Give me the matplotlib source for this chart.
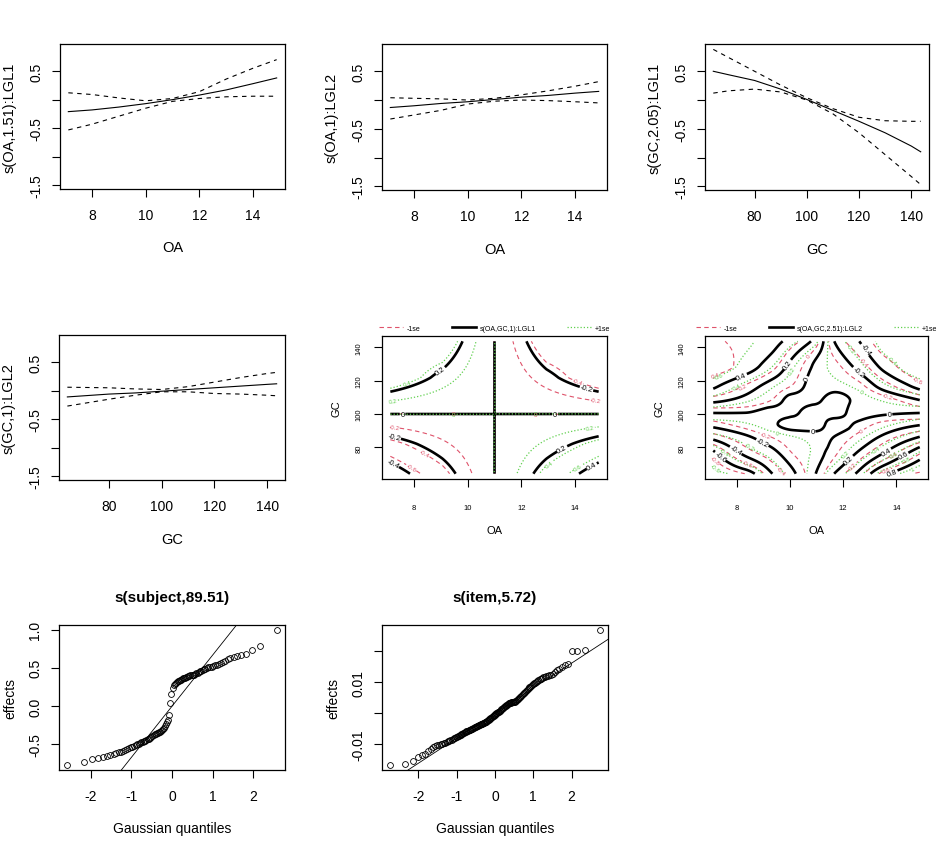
import numpy as np
import matplotlib
matplotlib.use("Agg")
import matplotlib.pyplot as plt
from matplotlib.lines import Line2D
from statistics import NormalDist

plt.rcParams['font.family'] = ['Liberation Sans', 'DejaVu Sans']
plt.rcParams['axes.unicode_minus'] = False
plt.rcParams['lines.dashed_pattern'] = [4, 3]
plt.rcParams['lines.dotted_pattern'] = [1, 1.6]

RED = '#DF536B'
GREEN = '#61D04F'

# ---------------- data: 1-D smooths (fit, upper / lower 1 se) ----------------
oa_grid = [7.12, 8.0, 9.0, 10.0, 11.0, 12.0, 13.0, 14.0, 14.88]
s_oa_lgl1_fit = [-0.21, -0.18, -0.13, -0.07, 0.00, 0.08, 0.17, 0.28, 0.38]
s_oa_lgl1_hi = [0.12, 0.09, 0.03, -0.02, 0.02, 0.14, 0.36, 0.55, 0.70]
s_oa_lgl1_lo = [-0.53, -0.43, -0.29, -0.15, -0.03, 0.02, 0.05, 0.06, 0.06]

s_oa_lgl2_fit = [-0.13, -0.10, -0.06, -0.03, 0.01, 0.05, 0.08, 0.12, 0.15]
s_oa_lgl2_hi = [0.04, 0.03, 0.02, 0.00, 0.03, 0.09, 0.16, 0.24, 0.32]
s_oa_lgl2_lo = [-0.33, -0.26, -0.18, -0.07, -0.02, 0.00, -0.01, -0.03, -0.05]

gc_grid = [64.2, 70.0, 80.0, 90.0, 100.0, 110.0, 120.0, 130.0, 140.0, 143.6]
s_gc_lgl1_fit = [0.50, 0.44, 0.34, 0.19, 0.01, -0.18, -0.37, -0.57, -0.80, -0.90]
s_gc_lgl1_hi = [0.88, 0.74, 0.50, 0.26, 0.04, -0.15, -0.30, -0.36, -0.37, -0.37]
s_gc_lgl1_lo = [0.12, 0.16, 0.19, 0.14, 0.00, -0.24, -0.57, -0.95, -1.33, -1.47]

gc_grid2 = [64.2, 80.0, 90.0, 100.0, 110.0, 120.0, 130.0, 140.0, 143.6]
s_gc_lgl2_fit = [-0.11, -0.06, -0.04, -0.01, 0.02, 0.05, 0.08, 0.11, 0.12]
s_gc_lgl2_hi = [0.06, 0.05, 0.03, 0.02, 0.07, 0.15, 0.23, 0.30, 0.32]
s_gc_lgl2_lo = [-0.27, -0.15, -0.08, -0.02, -0.02, -0.05, -0.06, -0.08, -0.09]

# ---------------- data: 2-D smooths (fit and se on grids) ----------------
te1_oa = [7.12, 9.06, 11.0, 12.94, 14.88]
te1_gc = [64.2, 82.1, 100.0, 121.8, 143.6]
te1_fit = [
    [-0.48, -0.268, 0.0, 0.268, 0.48],
    [-0.268, -0.134, 0.0, 0.134, 0.268],
    [0.0, 0.0, 0.0, 0.0, 0.0],
    [0.326, 0.163, 0.0, -0.163, -0.326],
    [0.38, 0.326, 0.0, -0.326, -0.38],
]
te1_se = [
    [0.31, 0.196, 0.0, 0.196, 0.31],
    [0.196, 0.098, 0.0, 0.098, 0.196],
    [0.0, 0.0, 0.0, 0.0, 0.0],
    [0.239, 0.119, 0.0, 0.119, 0.239],
    [0.20, 0.239, 0.0, 0.239, 0.20],
]

te2_oa = [7.12, 8.3, 9.3, 10.1, 10.9, 11.7, 12.5, 13.6, 14.88]
te2_gc = [64.2, 76.0, 86.0, 94.0, 101.0, 108.0, 117.0, 129.0, 143.6]
te2_fit = [
    [-0.75, -0.68, -0.41, -0.23, -0.02, 0.21, 0.41, 0.78, 0.95],
    [-0.64, -0.38, -0.25, -0.13, -0.05, 0.06, 0.21, 0.43, 0.72],
    [-0.36, -0.23, -0.13, -0.07, -0.04, 0.005, 0.09, 0.24, 0.41],
    [-0.15, -0.08, -0.02, 0.04, 0.05, -0.04, 0.01, 0.10, 0.18],
    [0.01, 0.004, -0.03, -0.02, 0.05, 0.04, -0.03, -0.02, -0.01],
    [0.23, 0.15, 0.06, -0.03, -0.02, 0.04, -0.02, -0.08, -0.19],
    [0.43, 0.28, 0.15, 0.06, -0.03, -0.04, -0.09, -0.27, -0.45],
    [0.55, 0.47, 0.33, 0.15, -0.01, -0.10, -0.23, -0.45, -0.57],
    [0.55, 0.50, 0.45, 0.34, 0.17, -0.21, -0.38, -0.55, -0.57],
]
te2_se_oa = [7.12, 9.06, 11.0, 12.94, 14.88]
te2_se_gc = [64.2, 82.1, 100.0, 121.8, 143.6]
te2_se = [
    [0.14, 0.11, 0.09, 0.11, 0.14],
    [0.11, 0.08, 0.06, 0.08, 0.11],
    [0.09, 0.06, 0.06, 0.06, 0.10],
    [0.11, 0.08, 0.06, 0.08, 0.11],
    [0.14, 0.11, 0.09, 0.11, 0.13],
]
contour_levels = [-1.0, -0.8, -0.6, -0.4, -0.2, 0.0, 0.2, 0.4, 0.6, 0.8, 1.0]

# ---------------- data: random effects ----------------
subject_effects = [
    -0.77, -0.735, -0.70, -0.685, -0.67, -0.66, -0.645, -0.635, -0.62, -0.61,
    -0.60, -0.59, -0.58, -0.565, -0.555, -0.545, -0.535, -0.525, -0.515, -0.505,
    -0.495, -0.485, -0.478, -0.47, -0.462, -0.455, -0.447, -0.44, -0.43, -0.42,
    -0.41, -0.40, -0.385, -0.375, -0.365, -0.355, -0.35, -0.345, -0.34, -0.33,
    -0.32, -0.30, -0.285, -0.27, -0.24, -0.21, -0.18, -0.12, 0.04, 0.16,
    0.23, 0.27, 0.29, 0.30, 0.315, 0.325, 0.33, 0.34, 0.345, 0.35,
    0.36, 0.365, 0.37, 0.38, 0.385, 0.39, 0.395, 0.40, 0.40, 0.405,
    0.41, 0.415, 0.425, 0.435, 0.445, 0.455, 0.46, 0.47, 0.48, 0.49,
    0.50, 0.505, 0.51, 0.515, 0.52, 0.53, 0.54, 0.55, 0.565, 0.58,
    0.595, 0.61, 0.625, 0.64, 0.655, 0.665, 0.68, 0.735, 0.79, 0.99,
]
item_effects = [
    -0.0166, -0.0163, -0.01555, -0.01425, -0.01362, -0.01309, -0.01227, -0.01156, -0.01094, -0.01047,
    -0.0103, -0.01016, -0.01002, -0.00988, -0.00972, -0.0095, -0.00928, -0.00907, -0.00888, -0.0087,
    -0.00852, -0.00834, -0.00817, -0.008, -0.00781, -0.00763, -0.00746, -0.00729, -0.00712, -0.00696,
    -0.0068, -0.00664, -0.00649, -0.00634, -0.00619, -0.00604, -0.00591, -0.00578, -0.00566, -0.00553,
    -0.00542, -0.00529, -0.00518, -0.00506, -0.00495, -0.00483, -0.00472, -0.0046, -0.0045, -0.00439,
    -0.00428, -0.00417, -0.00406, -0.00396, -0.00385, -0.00375, -0.00364, -0.00354, -0.00344, -0.00334,
    -0.00324, -0.00314, -0.00303, -0.00294, -0.00284, -0.0027, -0.00254, -0.00237, -0.00221, -0.00205,
    -0.00189, -0.00173, -0.00158, -0.00142, -0.00126, -0.00111, -0.00096, -0.00081, -0.00067, -0.00052,
    -0.00036, -0.00021, -0.00007, 0.00008, 0.00023, 0.00037, 0.00052, 0.00069, 0.00084, 0.00101,
    0.00118, 0.00134, 0.00151, 0.00169, 0.00185, 0.00202, 0.00218, 0.00235, 0.00253, 0.00269,
    0.00286, 0.00303, 0.0032, 0.00326, 0.00332, 0.00338, 0.00344, 0.0035, 0.00357, 0.00363,
    0.00369, 0.00375, 0.00383, 0.00406, 0.00427, 0.00449, 0.0047, 0.00492, 0.00514, 0.00537,
    0.0056, 0.00582, 0.00609, 0.00635, 0.00662, 0.0069, 0.00718, 0.00747, 0.00775, 0.00805,
    0.0083, 0.00854, 0.0088, 0.00905, 0.00932, 0.00959, 0.00987, 0.01016, 0.01045, 0.01076,
    0.01095, 0.01114, 0.01133, 0.01153, 0.01174, 0.0119, 0.01203, 0.01218, 0.01234, 0.01261,
    0.01315, 0.0138, 0.0144, 0.01493, 0.01553, 0.016, 0.0199, 0.0199, 0.0205, 0.0267,
]


# ---------------- helpers ----------------
def pchip_1d(xk, yk, xf):
    xk = np.asarray(xk, float)
    yk = np.asarray(yk, float)
    n = len(xk)
    h = np.diff(xk)
    d = np.diff(yk) / h
    m = np.zeros(n)
    for i in range(1, n - 1):
        if d[i - 1] * d[i] > 0:
            w1 = 2 * h[i] + h[i - 1]
            w2 = h[i] + 2 * h[i - 1]
            m[i] = (w1 + w2) / (w1 / d[i - 1] + w2 / d[i])

    def end_slope(h0, h1, d0, d1):
        mm = ((2 * h0 + h1) * d0 - h0 * d1) / (h0 + h1)
        if np.sign(mm) != np.sign(d0):
            mm = 0.0
        elif np.sign(d0) != np.sign(d1) and abs(mm) > abs(3 * d0):
            mm = 3 * d0
        return mm

    m[0] = end_slope(h[0], h[1], d[0], d[1])
    m[-1] = end_slope(h[-1], h[-2], d[-1], d[-2])
    idx = np.clip(np.searchsorted(xk, xf) - 1, 0, n - 2)
    t = (xf - xk[idx]) / h[idx]
    h00 = 2 * t ** 3 - 3 * t ** 2 + 1
    h10 = t ** 3 - 2 * t ** 2 + t
    h01 = -2 * t ** 3 + 3 * t ** 2
    h11 = t ** 3 - t ** 2
    return (h00 * yk[idx] + h10 * h[idx] * m[idx] +
            h01 * yk[idx + 1] + h11 * h[idx] * m[idx + 1])


def upsample(gx, gy, Z, xf, yf, kind):
    Z = np.asarray(Z, float)
    if kind == 'linear':
        f = lambda xk, yk, xq: np.interp(xq, xk, yk)
    else:
        f = pchip_1d
    rows = np.array([f(gx, r, xf) for r in Z])
    return np.array([f(gy, rows[:, j], yf) for j in range(len(xf))]).T


def padded(lo, hi, frac=0.04):
    p = frac * (hi - lo)
    return lo - p, hi + p


def r_style(ax, fs, xpad, ypad):
    for s in ax.spines.values():
        s.set_linewidth(0.9)
    ax.tick_params(axis='both', direction='out', length=6, width=0.8,
                   labelsize=fs, colors='black')
    ax.tick_params(axis='x', pad=xpad)
    ax.tick_params(axis='y', pad=ypad, labelrotation=90)
    for t in ax.get_yticklabels():
        t.set_va('center')


W_PX, H_PX = 948.0, 845.0
fig = plt.figure(figsize=(9.48, 8.45), dpi=100)


def add_ax(l, t, r, b):
    return fig.add_axes([l / W_PX, 1 - b / H_PX, (r - l) / W_PX, (b - t) / H_PX])


ax1 = add_ax(60, 45, 285, 190)
ax2 = add_ax(382, 45, 607, 191)
ax3 = add_ax(705, 45, 929, 191)
ax4 = add_ax(59, 336, 285, 481)
ax5 = add_ax(382, 337, 607, 480)
ax6 = add_ax(705, 337, 928, 480)
ax7 = add_ax(59, 626, 285, 771)
ax8 = add_ax(382, 626, 608, 771)

# ---------------- 1-D smooth panels ----------------
all_1d = (s_oa_lgl1_fit + s_oa_lgl1_hi + s_oa_lgl1_lo + s_oa_lgl2_fit + s_oa_lgl2_hi +
          s_oa_lgl2_lo + s_gc_lgl1_fit + s_gc_lgl1_hi + s_gc_lgl1_lo + s_gc_lgl2_fit +
          s_gc_lgl2_hi + s_gc_lgl2_lo)
ylim_1d = padded(min(all_1d), max(all_1d))


def smooth_panel(ax, x, fit, lo, hi, xlabel, ylabel, xticks):
    ax.plot(x, fit, color='black', lw=0.8)
    ax.plot(x, lo, color='black', lw=0.8, ls=(0, (4, 4)))
    ax.plot(x, hi, color='black', lw=0.8, ls=(0, (4, 4)))
    ax.set_xlim(*padded(min(x), max(x)))
    ax.set_ylim(*ylim_1d)
    ax.set_xticks(xticks)
    ax.set_yticks([-1.5, -1.0, -0.5, 0.0, 0.5])
    ax.set_yticklabels(['-1.5', '', '-0.5', '', '0.5'])
    ax.set_xlabel(xlabel, fontsize=10.5, labelpad=13)
    ax.set_ylabel(ylabel, fontsize=10.5, labelpad=9)
    r_style(ax, 10, 8, 6)


smooth_panel(ax1, oa_grid, s_oa_lgl1_fit, s_oa_lgl1_lo, s_oa_lgl1_hi, 'OA', 's(OA,1.51):LGL1', [8, 10, 12, 14])
smooth_panel(ax2, oa_grid, s_oa_lgl2_fit, s_oa_lgl2_lo, s_oa_lgl2_hi, 'OA', 's(OA,1):LGL2', [8, 10, 12, 14])
smooth_panel(ax3, gc_grid, s_gc_lgl1_fit, s_gc_lgl1_lo, s_gc_lgl1_hi, 'GC', 's(GC,2.05):LGL1', [80, 100, 120, 140])
smooth_panel(ax4, gc_grid2, s_gc_lgl2_fit, s_gc_lgl2_lo, s_gc_lgl2_hi, 'GC', 's(GC,1):LGL2', [80, 100, 120, 140])


# ---------------- 2-D contour panels ----------------
def contour_panel(ax, gx, gy, fit, sx, sy, se, kind, legend_label):
    xf = np.linspace(gx[0], gx[-1], 240)
    yf = np.linspace(gy[0], gy[-1], 240)
    F = upsample(gx, gy, fit, xf, yf, kind)
    S = upsample(sx, sy, se, xf, yf, kind)
    X, Y = np.meshgrid(xf, yf)
    c_lo = ax.contour(X, Y, F - S, levels=contour_levels, colors=RED,
                      linewidths=0.8, linestyles='dashed')
    c_fit = ax.contour(X, Y, F, levels=contour_levels, colors='black',
                       linewidths=1.9, linestyles='solid')
    c_hi = ax.contour(X, Y, F + S, levels=contour_levels, colors=GREEN,
                      linewidths=0.9, linestyles='dotted')
    for cs, fs in ((c_lo, 4.5), (c_hi, 4.5), (c_fit, 5.5)):
        ax.clabel(cs, fmt='%g', fontsize=fs, inline=True, inline_spacing=1)
    ax.set_xlim(*padded(gx[0], gx[-1]))
    ax.set_ylim(*padded(gy[0], gy[-1]))
    ax.set_xticks([8, 10, 12, 14])
    ax.set_yticks([80, 100, 120, 140])
    ax.set_xlabel('OA', fontsize=8, labelpad=10)
    ax.set_ylabel('GC', fontsize=8, labelpad=10)
    r_style(ax, 5.5, 12, 8)
    handles = [Line2D([], [], color=RED, lw=0.8, ls='--'),
               Line2D([], [], color='black', lw=1.9),
               Line2D([], [], color=GREEN, lw=0.9, ls=':')]
    ax.legend(handles, ['-1se', legend_label, '+1se'], loc='lower center',
              bbox_to_anchor=(0.5, 1.0), ncol=3, frameon=False, fontsize=5,
              handlelength=3.5, columnspacing=4.5, handletextpad=0.5,
              borderaxespad=0.2)


contour_panel(ax5, te1_oa, te1_gc, te1_fit, te1_oa, te1_gc, te1_se, 'linear', 's(OA,GC,1):LGL1')
contour_panel(ax6, te2_oa, te2_gc, te2_fit, te2_se_oa, te2_se_gc, te2_se, 'pchip', 's(OA,GC,2.51):LGL2')

# ---------------- QQ panels ----------------
nd = NormalDist()


def qq_panel(ax, eff, title, yticks, yticklabels):
    y = np.sort(np.asarray(eff, float))
    n = len(y)
    x = np.array([nd.inv_cdf((i - 0.5) / n) for i in range(1, n + 1)])
    ax.plot(x, y, ls='none', marker='o', ms=4.2, mfc='none', mec='black', mew=0.6)
    q1, q3 = np.quantile(y, [0.25, 0.75])
    z1, z3 = nd.inv_cdf(0.25), nd.inv_cdf(0.75)
    slope = (q3 - q1) / (z3 - z1)
    ax.axline((0.0, q1 - slope * z1), slope=slope, color='black', lw=0.6)
    ax.set_xlim(*padded(x.min(), x.max()))
    ax.set_ylim(*padded(y.min(), y.max()))
    ax.set_xticks([-2, -1, 0, 1, 2])
    ax.set_yticks(yticks)
    ax.set_yticklabels(yticklabels)
    ax.set_title(title, fontsize=11, fontweight='bold', pad=17)
    ax.set_xlabel('Gaussian quantiles', fontsize=10, labelpad=13)
    ax.set_ylabel('effects', fontsize=10, labelpad=8)
    r_style(ax, 10, 8, 6)


qq_panel(ax7, subject_effects, 's(subject,89.51)', [-0.5, 0.0, 0.5, 1.0], ['-0.5', '0.0', '0.5', '1.0'])
qq_panel(ax8, item_effects, 's(item,5.72)', [-0.01, 0.0, 0.01, 0.02], ['-0.01', '', '0.01', ''])

fig.savefig('out.png', dpi=100)
